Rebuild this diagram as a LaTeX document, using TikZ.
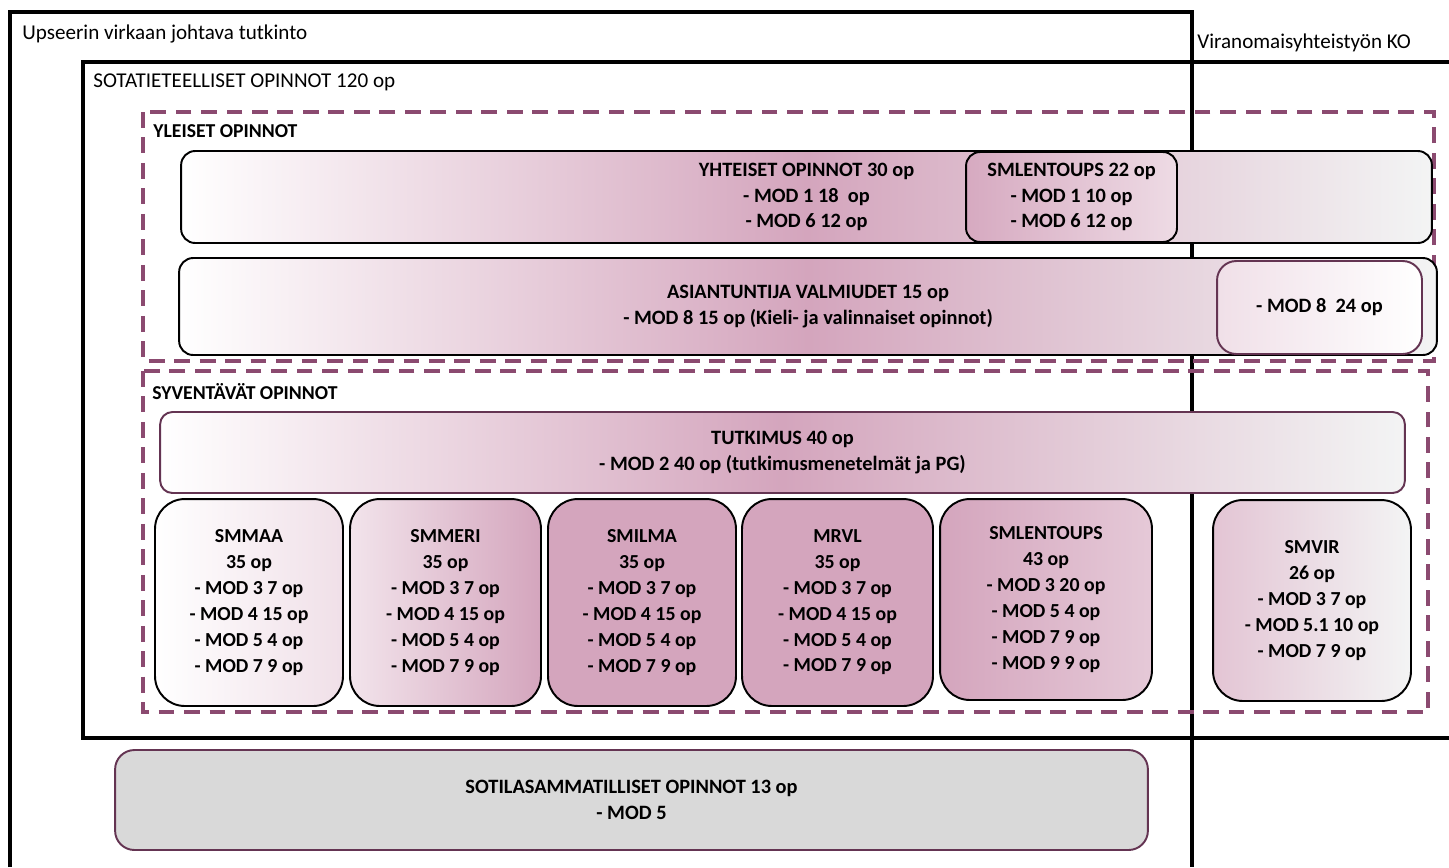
\documentclass[tikz,border=0pt]{standalone}
\usepackage{fontspec}
\setmainfont{Carlito}
\usepackage{xcolor}

\definecolor{boxpink}{RGB}{212,165,189}
\definecolor{zonepurple}{RGB}{139,74,112}
\definecolor{edgepurple}{RGB}{100,52,82}
\definecolor{boxgray}{RGB}{217,217,217}
\definecolor{fadegray}{RGB}{243,244,244}

\begin{document}
\begin{tikzpicture}[x=0.02cm,y=-0.02cm,
  frame/.style={line width=2.8pt},
  zone/.style={draw=zonepurple,line width=2.3pt,dash pattern=on 9pt off 5.5pt},
  label/.style={anchor=base west,inner sep=0pt,font=\fontsize{12}{14}\selectfont},
  zonelabel/.style={label,font=\bfseries\fontsize{11.2}{14}\selectfont},
  course/.style={draw,line width=1.1pt,align=center,inner sep=0pt,
    font=\bfseries\fontsize{11.6}{14.7}\selectfont},
  wide/.style={course,rounded corners=8pt},
  major/.style={course,rounded corners=17pt,minimum width=3.8cm,minimum height=4.14cm,
    font=\bfseries\fontsize{11.3}{14.7}\selectfont}]
\useasboundingbox (0,0) rectangle (1449,867);

% frames
\draw[frame] (10,867) -- (10,12) -- (1192,12) -- (1192,867);
\draw[frame] (1449,62) -- (83,62) -- (83,738) -- (1449,738);
\node[label] (tutkinto) at (22,39) {Upseerin virkaan johtava tutkinto};
\node[label] (ko) at (1197,48) {Viranomaisyhteistyön KO};
\node[label] (sotatiet) at (93,87) {SOTATIETEELLISET OPINNOT 120 op};

% yleiset opinnot
\draw[zone] (143,112) rectangle (1434,361);
\node[zonelabel] (yleiset) at (153,137) {YLEISET OPINNOT};
\node[wide,left color=white,right color=fadegray,middle color=boxpink,
  minimum width=25.02cm,minimum height=1.84cm] (yhteiset) at (806.5,197)
  {YHTEISET OPINNOT 30 op\\- MOD 1 18\ \ op\\- MOD 6 12 op};
\node[wide,left color=boxpink!95,right color=boxpink!40,
  minimum width=4.22cm,minimum height=1.8cm] (lentoyht) at (1071.5,197)
  {SMLENTOUPS 22 op\\- MOD 1 10 op\\- MOD 6 12 op};
\node[wide,left color=white,right color=fadegray,middle color=boxpink,
  minimum width=25.16cm,minimum height=1.94cm] (asiantuntija) at (808,306.5)
  {ASIANTUNTIJA VALMIUDET 15 op\\- MOD 8 15 op (Kieli- ja valinnaiset opinnot)};
\node[wide,draw=edgepurple,rounded corners=11pt,left color=boxpink!35,right color=white,
  minimum width=4.1cm,minimum height=1.86cm] (modkahdeksan) at (1319.5,307.5)
  {- MOD 8\ \ 24 op};

% syventavat opinnot
\draw[zone] (143,371) rectangle (1428,712);
\node[zonelabel] (syventavat) at (152,399) {SYVENTÄVÄT OPINNOT};
\node[wide,draw=edgepurple,rounded corners=7pt,left color=white,right color=fadegray,middle color=boxpink,
  minimum width=24.9cm,minimum height=1.62cm] (tutkimus) at (782.5,452.5)
  {TUTKIMUS 40 op\\- MOD 2 40 op (tutkimusmenetelmät ja PG)};
\node[major,left color=white,right color=boxpink!35,minimum width=3.76cm] (smmaa) at (249,602.5)
  {SMMAA\\35 op\\- MOD 3 7 op\\- MOD 4 15 op\\- MOD 5 4 op\\- MOD 7 9 op};
\node[major,left color=boxpink!30,right color=boxpink,minimum width=3.82cm] (smmeri) at (445.5,602.5)
  {SMMERI\\35 op\\- MOD 3 7 op\\- MOD 4 15 op\\- MOD 5 4 op\\- MOD 7 9 op};
\node[major,fill=boxpink,minimum width=3.76cm] (smilma) at (642,602.5)
  {SMILMA\\35 op\\- MOD 3 7 op\\- MOD 4 15 op\\- MOD 5 4 op\\- MOD 7 9 op};
\node[major,fill=boxpink,minimum width=3.82cm] (mrvl) at (837.5,602.5)
  {MRVL\\35 op\\- MOD 3 7 op\\- MOD 4 15 op\\- MOD 5 4 op\\- MOD 7 9 op};
\node[major,left color=boxpink,right color=boxpink!60,minimum width=4.24cm,minimum height=4.02cm] (smlentoups) at (1046,599.5)
  {SMLENTOUPS\\43 op\\- MOD 3 20 op\\- MOD 5 4 op\\- MOD 7 9 op\\- MOD 9 9 op};
\node[major,left color=boxpink!65,right color=fadegray,minimum width=3.96cm,minimum height=4.02cm] (smvir) at (1312,600.5)
  {SMVIR\\26 op\\- MOD 3 7 op\\- MOD 5.1 10 op\\- MOD 7 9 op};

% sotilasammatilliset opinnot
\node[course,draw=edgepurple,rounded corners=11pt,fill=boxgray,
  minimum width=20.66cm,minimum height=2cm] (sotilas) at (631.5,800)
  {SOTILASAMMATILLISET OPINNOT 13 op\\- MOD 5};
\end{tikzpicture}
\end{document}
